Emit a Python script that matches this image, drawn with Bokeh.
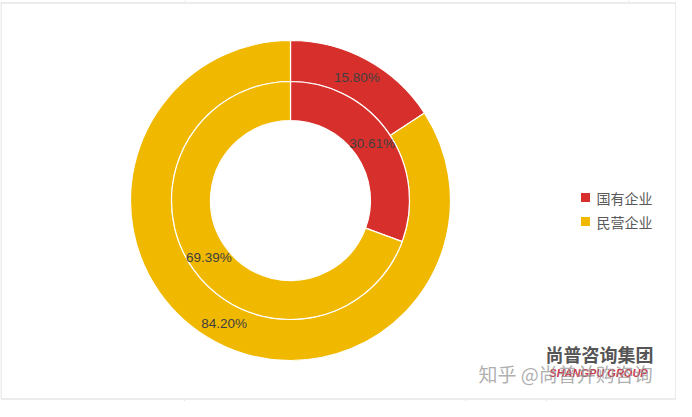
import numpy as np
from bokeh.plotting import figure
from bokeh.models import Range1d
from bokeh.core.properties import value
from bokeh.embed import file_html
from bokeh.resources import INLINE

# ---- data ----
categories = ["国有企业", "民营企业"]
outer_pct = [15.80, 84.20]
inner_pct = [30.61, 69.39]
colors = ["#D7302C", "#F1B800"]

W, H = 676, 401
p = figure(width=W, height=H, output_backend="svg", toolbar_location=None,
           x_range=Range1d(0, W), y_range=Range1d(0, H), min_border=0)
p.axis.visible = False
p.grid.visible = False
p.outline_line_color = None
p.background_fill_color = "white"
p.border_fill_color = "white"

# chart border and faint sheet gridlines
p.quad(left=0.5, right=675.5, bottom=2.5, top=398.5, fill_color=None, line_color="#D9D9D9", line_width=1)
p.segment(x0=[185, 628], y0=[399, 399], x1=[185, 628], y1=[401, 401], line_color="#E3E3E3", line_width=1)
p.segment(x0=[184, 465, 546], y0=[0, 0, 0], x1=[184, 465, 546], y1=[2, 2, 2], line_color="#E3E3E3", line_width=1)

cx, cy = 290, 201
r_hole, r_mid, r_out = 80, 119, 160

def ring(pcts, r0, r1):
    fr = np.array(pcts) / 100.0
    cum = np.concatenate([[0], np.cumsum(fr)])
    starts = np.pi / 2 - cum[:-1] * 2 * np.pi
    ends = np.pi / 2 - cum[1:] * 2 * np.pi
    p.annular_wedge(x=cx, y=cy, inner_radius=r0, outer_radius=r1,
                    start_angle=list(starts), end_angle=list(ends), direction="clock",
                    fill_color=colors, line_color="white", line_width=1.2)
    mids = (starts + ends) / 2
    rm = (r0 + r1) / 2
    xs = cx + rm * np.cos(mids)
    ys = cy + rm * np.sin(mids)
    p.text(x=list(xs), y=list(ys), text=["%.2f%%" % v for v in pcts],
           text_align="center", text_baseline="middle", text_font=value("Liberation Sans"),
           text_font_size="13.5px", text_color="#404040")

ring(outer_pct, r_mid, r_out)
ring(inner_pct, r_hole, r_mid)

# legend
ly = [204, 180]
p.scatter(x=[585, 585], y=ly, marker="square", size=9, fill_color=colors, line_color=None)
p.text(x=[596, 596], y=ly, text=categories, text_baseline="middle",
       text_font=value("Noto Sans CJK SC"), text_font_size="14px", text_color="#595959")

# watermark
p.text(x=[599], y=[48], text=["尚普咨询集团"], text_align="center", text_baseline="middle",
       text_font=value("Noto Sans CJK SC"), text_font_size="18px", text_font_style="bold",
       text_color="#555555")
p.text(x=[598], y=[29], text=["SHANGPU GROUP"], text_align="center", text_baseline="middle",
       text_font=value("Liberation Sans"), text_font_size="11px", text_font_style="bold italic",
       text_color="#C8384C")
p.text(x=[478], y=[28], text=["知乎 @尚普并购咨询"], text_align="left", text_baseline="middle",
       text_font=value("Noto Sans CJK SC"), text_font_size="19px", text_color="#9A9A9A",
       text_alpha=0.8)

open("out.html", "w").write(file_html(p, INLINE))
